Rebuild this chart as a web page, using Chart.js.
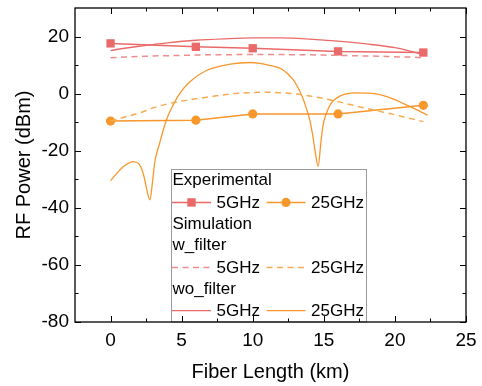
<!DOCTYPE html>
<html>
<head>
<meta charset="utf-8">
<script src="https://cdn.jsdelivr.net/npm/chart.js@4.4.1/dist/chart.umd.min.js"></script>
<style>
html,body{margin:0;padding:0;background:#fff;}
canvas{display:block;}
</style>
</head>
<body>
<canvas id="c" width="482" height="386"></canvas>
<script>
// ---- data ----
const xTicks = [0, 5, 10, 15, 20, 25];
const yTicks = [-80, -60, -40, -20, 0, 20];
const xMinor = [2.5, 7.5, 12.5, 17.5, 22.5];
const yMinor = [-70, -50, -30, -10, 10];

const expX = [0, 6, 10, 16, 22];
const exp5 = [17.6, 16.4, 15.9, 14.8, 14.4];
const exp25 = [-9.6, -9.3, -7.1, -7.1, -4.1];

const wfX = [0, 1, 2, 3, 4, 5, 6, 7, 8, 9, 10, 11, 12, 13, 14, 15, 16, 17, 18, 19, 20, 21, 22];
const wf5 = [12.6, 12.8, 13.0, 13.2, 13.3, 13.4, 13.5, 13.6, 13.6, 13.7, 13.7, 13.7, 13.7, 13.6, 13.6, 13.5, 13.4, 13.3, 13.2, 13.1, 12.9, 12.8, 12.6];
const wf25 = [-9.6, -8.2, -6.8, -5.0, -3.6, -2.6, -1.8, -1.1, -0.4, 0.1, 0.4, 0.5, 0.3, -0.1, -0.8, -1.7, -2.8, -4.0, -5.2, -6.3, -7.4, -8.6, -9.8];

const wo5X = [0, 1, 2, 3, 4, 6, 8, 10, 12, 14, 16, 18, 20, 21, 22];
const wo5 = [15.1, 15.9, 16.6, 17.2, 17.8, 18.7, 19.2, 19.5, 19.5, 19.1, 18.4, 17.4, 16.1, 15.0, 13.7];

const wo25X = [0, 0.5, 1.0, 1.6, 2.0, 2.2, 2.4, 2.6, 2.77, 2.95, 3.1, 3.45, 3.92, 4.39, 4.86, 5.56, 6.74, 8.4, 9.8, 10.5, 11.0, 12.0, 12.8, 13.2, 13.5, 13.75, 14.0, 14.2, 14.4, 14.6, 14.8, 14.95, 15.18, 15.5, 16.24, 17.2, 18.6, 19.9, 21.0, 22.3];
const wo25 = [-30.5, -27.6, -25.2, -23.8, -24.6, -26.5, -30.0, -34.8, -37.2, -31.0, -24.3, -17.4, -9.3, -4.1, 0.0, 4.1, 8.1, 10.3, 10.9, 10.6, 10.1, 8.7, 5.2, 2.0, -1.3, -4.8, -9.0, -14.0, -20.5, -25.5, -16.8, -11.0, -6.9, -3.5, -0.6, 0.3, 0.0, -1.9, -4.4, -7.5];

const C5 = '#ea6a6a';
const C25 = '#f7972c';
const C5d = '#ef8c8c';
const C25d = '#f8aa50';
const FONT = '"Liberation Sans", Arial, sans-serif';

const pts = (xs, ys) => xs.map((x, i) => ({x: x, y: ys[i]}));

const datasets = [
  {label: 'w_filter 5GHz', data: pts(wfX, wf5), borderColor: C5d, borderWidth: 1.5, borderDash: [6, 4.5], pointRadius: 0, cubicInterpolationMode: 'monotone'},
  {label: 'w_filter 25GHz', data: pts(wfX, wf25), borderColor: C25d, borderWidth: 1.5, borderDash: [6, 4.5], pointRadius: 0, cubicInterpolationMode: 'monotone'},
  {label: 'wo_filter 5GHz', data: pts(wo5X, wo5), borderColor: C5, borderWidth: 1.3, pointRadius: 0, cubicInterpolationMode: 'monotone'},
  {label: 'wo_filter 25GHz', data: pts(wo25X, wo25), borderColor: C25, borderWidth: 1.3, pointRadius: 0, cubicInterpolationMode: 'monotone'},
  {label: 'Experimental 5GHz', data: pts(expX, exp5), borderColor: C5, backgroundColor: C5, borderWidth: 1.5, pointStyle: 'rect', pointRadius: 5.9, pointBorderWidth: 0, tension: 0},
  {label: 'Experimental 25GHz', data: pts(expX, exp25), borderColor: C25, backgroundColor: C25, borderWidth: 1.5, pointStyle: 'circle', pointRadius: 4.6, pointBorderWidth: 0, tension: 0}
];

const frameTicks = {
  id: 'frameTicks',
  afterDatasetsDraw(chart) {
    const ctx = chart.ctx, a = chart.chartArea;
    const xs = chart.scales.x, ys = chart.scales.y;
    ctx.save();
    // legend box
    const L = 171.5, T = 169.5, R = 366.5, B = a.bottom;
    ctx.fillStyle = '#fff';
    ctx.fillRect(L, T, R - L, B - T);
    ctx.strokeStyle = '#9a9a9a';
    ctx.lineWidth = 1;
    ctx.strokeRect(L, T, R - L, B - T);
    ctx.fillStyle = '#000';
    ctx.font = '17px ' + FONT;
    ctx.textBaseline = 'middle';
    ctx.textAlign = 'left';
    const row = i => 180.8 + i * 21.65;
    ctx.fillText('Experimental', 172.5, row(0));
    ctx.fillText('Simulation', 172.5, row(2));
    ctx.fillText('w_filter', 172.5, row(3));
    ctx.fillText('wo_filter', 172.5, row(5));
    const entry = (x0, y, color, dash, marker, text, lw) => {
      ctx.save();
      ctx.strokeStyle = color; ctx.lineWidth = lw;
      ctx.setLineDash(dash);
      ctx.beginPath(); ctx.moveTo(x0, y); ctx.lineTo(x0 + 39, y); ctx.stroke();
      ctx.setLineDash([]);
      ctx.fillStyle = color;
      if (marker === 'rect') ctx.fillRect(x0 + 19.5 - 4.2, y - 4.2, 8.4, 8.4);
      if (marker === 'circle') { ctx.beginPath(); ctx.arc(x0 + 19.5, y, 4.6, 0, Math.PI * 2); ctx.fill(); }
      ctx.restore();
      ctx.fillStyle = '#000';
      ctx.fillText(text, x0 + 44.5, y + 0.5);
    };
    entry(172, row(1), C5, [], 'rect', '5GHz', 1.5);
    entry(266.5, row(1), C25, [], 'circle', '25GHz', 1.5);
    entry(172, row(4), C5d, [6, 4.5], null, '5GHz', 1.5);
    entry(266.5, row(4), C25d, [6, 4.5], null, '25GHz', 1.5);
    entry(172, row(6), C5, [], null, '5GHz', 1.3);
    entry(266.5, row(6), C25, [], null, '25GHz', 1.3);

    // inside ticks
    ctx.strokeStyle = '#000';
    ctx.lineWidth = 1;
    ctx.beginPath();
    const vt = (v, len) => {
      const px = Math.round(xs.getPixelForValue(v)) + 0.5;
      ctx.moveTo(px, a.bottom); ctx.lineTo(px, a.bottom - len);
      ctx.moveTo(px, a.top); ctx.lineTo(px, a.top + len);
    };
    const ht = (v, len) => {
      const py = Math.round(ys.getPixelForValue(v)) + 0.5;
      ctx.moveTo(a.left, py); ctx.lineTo(a.left + len, py);
      ctx.moveTo(a.right, py); ctx.lineTo(a.right - len, py);
    };
    xTicks.forEach(v => vt(v, 6));
    xMinor.forEach(v => vt(v, 3.5));
    yTicks.forEach(v => ht(v, 6));
    yMinor.forEach(v => ht(v, 3.5));
    ctx.stroke();
    ctx.lineWidth = 1.3;
    ctx.strokeRect(a.left, a.top, a.right - a.left, a.bottom - a.top);
    ctx.restore();
  }
};

new Chart(document.getElementById('c'), {
  type: 'line',
  data: {datasets: datasets},
  plugins: [frameTicks],
  options: {
    responsive: false,
    animation: false,
    devicePixelRatio: 1,
    layout: {padding: {left: 0, right: 16, top: 8, bottom: 0}},
    plugins: {legend: {display: false}, tooltip: {enabled: false}},
    scales: {
      x: {
        type: 'linear', min: -2.5, max: 25,
        afterBuildTicks: s => { s.ticks = xTicks.map(v => ({value: v})); },
        afterFit: s => { s.height = 64; s.paddingLeft = 0; s.paddingRight = 0; },
        grid: {display: false, drawTicks: false},
        border: {display: false},
        ticks: {color: '#000', font: {size: 19, family: FONT}, padding: 7, maxRotation: 0},
        title: {display: true, text: 'Fiber Length (km)', color: '#000', font: {size: 20, family: FONT}, padding: {top: 2, bottom: 2}}
      },
      y: {
        type: 'linear', min: -80, max: 30,
        afterBuildTicks: s => { s.ticks = yTicks.map(v => ({value: v})); },
        afterFit: s => { s.width = 75; s.paddingTop = 0; s.paddingBottom = 0; },
        grid: {display: false, drawTicks: false},
        border: {display: false},
        ticks: {color: '#000', font: {size: 19, family: FONT}, padding: 6},
        title: {display: true, text: 'RF Power (dBm)', color: '#000', font: {size: 20, family: FONT}, padding: {top: 12, bottom: 0}}
      }
    }
  }
});
</script>
</body>
</html>
